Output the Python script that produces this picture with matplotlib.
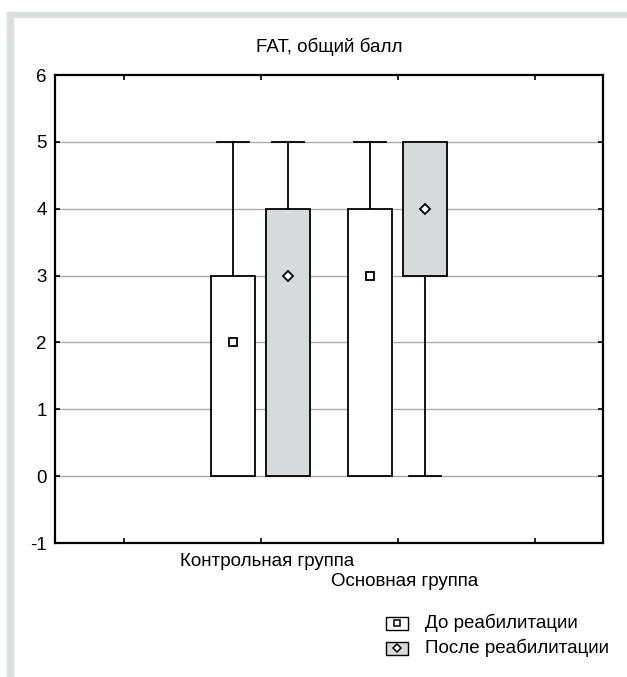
import matplotlib
matplotlib.use("Agg")
import matplotlib.pyplot as plt
from matplotlib.patches import Rectangle
from matplotlib.lines import Line2D

plt.rcParams['font.family'] = ['Liberation Sans', 'DejaVu Sans']

title = "FAT, общий балл"
groups = ["Контрольная группа", "Основная группа"]
series = ["До реабилитации", "После реабилитации"]
# per group, per series: (whisker low, box low, median, box high, whisker high)
stats = {
    "До реабилитации":    [(0, 0, 2, 3, 5), (0, 0, 3, 4, 5)],
    "После реабилитации": [(0, 0, 3, 4, 5), (0, 3, 4, 5, 5)],
}
yticks = [-1, 0, 1, 2, 3, 4, 5, 6]

fills = {"До реабилитации": "white", "После реабилитации": "#d7dadb"}
markers = {"До реабилитации": "s", "После реабилитации": "D"}
msizes = {"До реабилитации": 5.5, "После реабилитации": 5.0}

FS = 13.5
W, H = 627, 677
fig = plt.figure(figsize=(W / 100, H / 100), dpi=100)

# decorative light frame (top and left bands)
fig.patches.append(Rectangle((7 / W, 1 - 17 / H), 1 - 7 / W, 5 / H,
                             transform=fig.transFigure, color="#dcdfe0", zorder=0))
fig.patches.append(Rectangle((7 / W, 0), 6 / W, 1 - 12 / H,
                             transform=fig.transFigure, color="#dcdfe0", zorder=0))

x0, x1, yt, yb = 55, 603, 75, 543
ax = fig.add_axes([x0 / W, 1 - yb / H, (x1 - x0) / W, (yb - yt) / H])
ax.set_xlim(0, 4)
ax.set_ylim(-1, 6)

group_pos = [1.5, 2.5]
offsets = {"До реабилитации": -0.2, "После реабилитации": 0.2}
bw = 0.32
cw = 0.235

for s in series:
    for gi, st in enumerate(stats[s]):
        wl, bl, med, bh, wh = st
        xc = group_pos[gi] + offsets[s]
        if wh > bh:
            ax.plot([xc, xc], [bh, wh], color="black", lw=1.3, zorder=3)
            ax.plot([xc - cw / 2, xc + cw / 2], [wh, wh], color="black", lw=1.3, zorder=3)
        if wl < bl:
            ax.plot([xc, xc], [wl, bl], color="black", lw=1.3, zorder=3)
            ax.plot([xc - cw / 2, xc + cw / 2], [wl, wl], color="black", lw=1.3, zorder=3)
        ax.add_patch(Rectangle((xc - bw / 2, bl), bw, bh - bl, facecolor=fills[s],
                               edgecolor="black", lw=1.3, zorder=4))
        ax.plot([xc], [med], marker=markers[s], ms=msizes[s], mfc="white",
                mec="black", mew=1.3, zorder=5, ls="none")

ax.set_yticks(yticks)
ax.set_yticklabels([str(v) for v in yticks], fontsize=FS)
ax.set_xticks([0.5, 1.5, 2.5, 3.5])
ax.set_xticklabels([])
ax.tick_params(axis="both", direction="in", length=3.5, width=1.2,
               top=True, right=True, pad=6)
for g in [0, 1, 2, 3, 4, 5]:
    ax.axhline(g, color="#ababab", lw=1.0, zorder=1)
for sp in ax.spines.values():
    sp.set_linewidth(1.6)
    sp.set_zorder(6)

# category labels (staggered)
ax.text(group_pos[0] + 7 / 137, -1 - 19 / 66.86, groups[0], ha="center", va="center",
        fontsize=FS, clip_on=False)
ax.text(group_pos[1] + 7 / 137, -1 - 39 / 66.86, groups[1], ha="center", va="center",
        fontsize=FS, clip_on=False)

fig.text(329 / W, 1 - 47 / H, title, ha="center", va="center", fontsize=FS)

# legend
leg_x, leg_y = 386, [623, 648]
for i, s in enumerate(series):
    y = leg_y[i]
    fig.patches.append(Rectangle((leg_x / W, 1 - (y + 6.5) / H), 22 / W, 13 / H,
                                 transform=fig.transFigure, facecolor=fills[s],
                                 edgecolor="black", lw=1.0))
    fig.lines.append(Line2D([(leg_x + 11) / W], [1 - y / H], transform=fig.transFigure,
                            marker=markers[s], ms=msizes[s] - 0.5, mfc="white", mec="black",
                            mew=1.1, ls="none"))
    fig.text(425 / W, 1 - y / H, s, ha="left", va="center", fontsize=FS)

fig.savefig("out.png", dpi=100)
